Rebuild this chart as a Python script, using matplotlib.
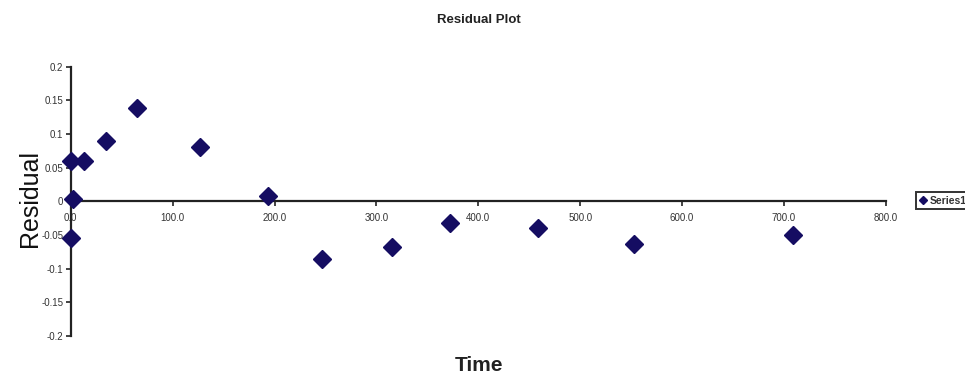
import matplotlib
matplotlib.use("Agg")
import matplotlib.pyplot as plt

# Residuals against time
time = [0.0, 2.0, 0.0, 13.0, 34.6, 64.8, 126.9, 193.6, 246.3, 315.0, 372.2, 458.9, 553.0, 708.5]
residual = [-0.054, 0.003, 0.060, 0.060, 0.090, 0.139, 0.080, 0.008, -0.086, -0.068, -0.032, -0.040, -0.064, -0.050]

x_ticks = [0, 100, 200, 300, 400, 500, 600, 700, 800]
y_ticks = [0.2, 0.15, 0.1, 0.05, 0, -0.05, -0.1, -0.15, -0.2]
y_tick_labels = ["0.2", "0.15", "0.1", "0.05", "0", "-0.05", "-0.1", "-0.15", "-0.2"]

plt.rcParams["font.family"] = ["Liberation Sans", "DejaVu Sans"]

fig = plt.figure(figsize=(9.65, 3.74), dpi=100)
ax = fig.add_axes([0.0733, 0.1016, 0.8447, 0.7201])

marker_color = "#150d62"
ax.plot(time, residual, linestyle="none", marker="D", markersize=9.5,
        color=marker_color, markeredgecolor=marker_color, label="Series1",
        clip_on=False, zorder=3)

ax.set_xlim(0, 800)
ax.set_ylim(-0.2, 0.2)

ax.spines["top"].set_visible(False)
ax.spines["right"].set_visible(False)
ax.spines["bottom"].set_position(("data", 0))
for side in ("left", "bottom"):
    ax.spines[side].set_linewidth(1.6)
    ax.spines[side].set_color("#222222")

ax.set_xticks(x_ticks)
ax.set_xticklabels([f"{v:.1f}" for v in x_ticks])
ax.set_yticks(y_ticks)
ax.set_yticklabels(y_tick_labels)
ax.tick_params(axis="both", direction="out", length=3.5, width=1.2,
               labelsize=7, color="#222222", labelcolor="#333333")
ax.tick_params(axis="x", pad=5)
ax.tick_params(axis="y", pad=2)

fig.text(0.496, 0.947, "Residual Plot", ha="center", va="center",
         fontsize=9.5, fontweight="bold", color="#222222")
fig.text(0.031, 0.47, "Residual", rotation=90, ha="center", va="center",
         fontsize=18, color="#111111")
fig.text(0.496, 0.024, "Time", ha="center", va="center",
         fontsize=15, fontweight="bold", color="#222222")

leg = fig.legend(loc="center left", bbox_to_anchor=(0.949, 0.463),
                 frameon=True, fancybox=False, fontsize=7.5, markerscale=0.45,
                 handlelength=0.6, handletextpad=0.4, borderpad=0.35,
                 borderaxespad=0)
leg.get_frame().set_edgecolor("black")
leg.get_frame().set_linewidth(1.4)
for t in leg.get_texts():
    t.set_fontweight("bold")
    t.set_color("#333333")

fig.savefig("out.png", dpi=100)
